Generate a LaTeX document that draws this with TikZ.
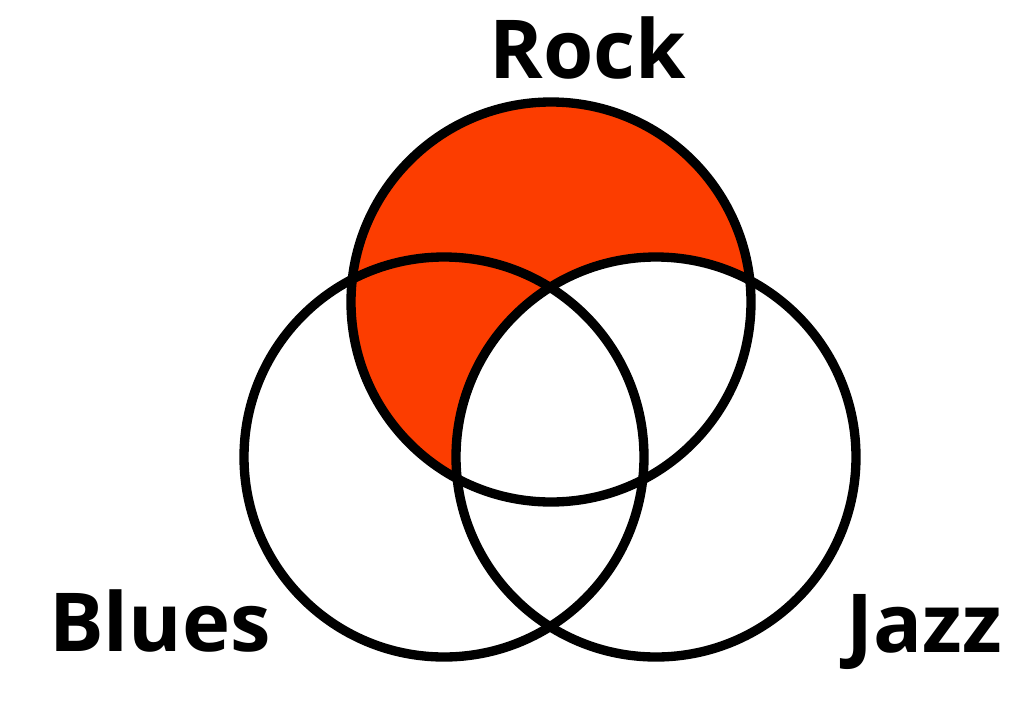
\documentclass[tikz,border=0pt]{standalone}
\usepackage{fontspec}
\setmainfont{Open Sans}
\usepackage{tikz}
\definecolor{rockred}{HTML}{FC3D00}
\tikzset{
	ring/.style={line width=7pt, black},
	lbl/.style={font=\bfseries\fontsize{61}{72}\selectfont, anchor=base, inner sep=0pt}
}

\begin{document}
\begin{tikzpicture}[x=0.75pt,y=-0.75pt]
		\useasboundingbox (0,0) rectangle (1024,722);
		\coordinate (rock) at (551,302);
		\coordinate (blues) at (444,457);
		\coordinate (jazz) at (656,457);
		% shaded part: Rock without Jazz
		\fill[rockred] (rock) circle (200);
		\fill[white] (jazz) circle (200);
		\draw[ring] (rock) circle (200);
		\draw[ring] (blues) circle (200);
		\draw[ring] (jazz) circle (200);
		\node[lbl] (rocklbl) at (588,78) {Rock};
		\node[lbl] (blueslbl) at (160,651) {Blues};
		\node[lbl] (jazzlbl) at (924,652) {Jazz};
		\end{tikzpicture}
\end{document}
